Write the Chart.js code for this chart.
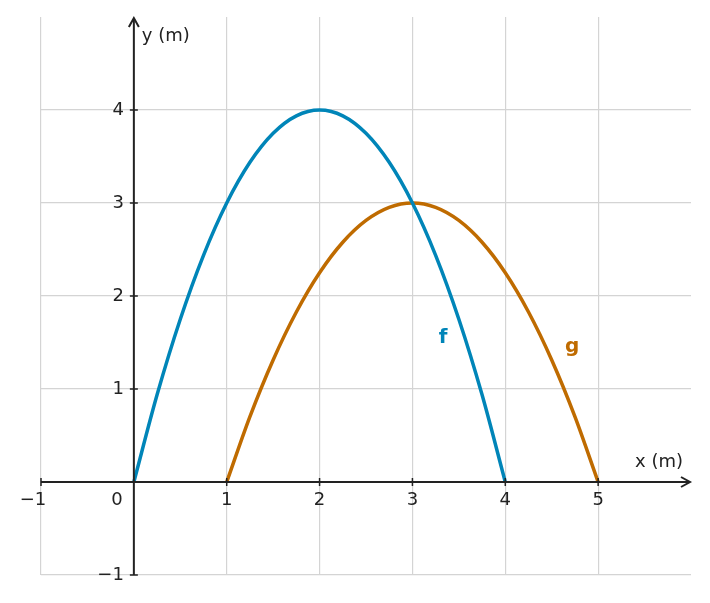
<!DOCTYPE html>
<html><head><meta charset="utf-8">
<script src="https://cdn.jsdelivr.net/npm/chart.js@4"></script>
<style>html,body{margin:0;padding:0;background:#fff}#w{width:710px;height:603px}</style>
</head><body><div id="w"><canvas id="c"></canvas></div>
<script>
const fX = [0,0.25,0.5,0.75,1,1.25,1.5,1.75,2,2.25,2.5,2.75,3,3.25,3.5,3.75,4];
const fY = [0,0.9375,1.75,2.4375,3,3.4375,3.75,3.9375,4,3.9375,3.75,3.4375,3,2.4375,1.75,0.9375,0];
const gX = [1,1.25,1.5,1.75,2,2.25,2.5,2.75,3,3.25,3.5,3.75,4,4.25,4.5,4.75,5];
const gY = [0,0.703125,1.3125,1.828125,2.25,2.578125,2.8125,2.953125,3,2.953125,2.8125,2.578125,2.25,1.828125,1.3125,0.703125,0];
const xTicks = [-1,0,1,2,3,4,5];
const yTicks = [-1,1,2,3,4];
const labels = [{t:'f',x:3.33,y:1.55,c:'#0085b8'},{t:'g',x:4.72,y:1.45,c:'#bf6b00'}];
const INK='#222';
const fmt=v=>v<0?'\u2212'+(-v):String(v);
const axes={id:'axes',afterDatasetsDraw(ch){
 const {ctx,scales:{x,y}}=ch;const x0=x.getPixelForValue(0),y0=y.getPixelForValue(0);
 const L=x.getPixelForValue(-1),R=x.getPixelForValue(6),T=y.getPixelForValue(5),B=y.getPixelForValue(-1);
 ctx.save();ctx.strokeStyle=INK;ctx.fillStyle=INK;ctx.lineWidth=2;
 ctx.beginPath();ctx.moveTo(L,y0);ctx.lineTo(R-2,y0);ctx.moveTo(x0,B);ctx.lineTo(x0,T+2);ctx.stroke();
 ctx.beginPath();ctx.moveTo(R-10,y0-5);ctx.lineTo(R-1,y0);ctx.lineTo(R-10,y0+5);ctx.moveTo(x0-5,T+10);ctx.lineTo(x0,T+1);ctx.lineTo(x0+5,T+10);ctx.stroke();
 ctx.lineWidth=1.5;ctx.font='18px "DejaVu Sans"';
 ctx.textAlign='center';ctx.textBaseline='top';
 xTicks.forEach(v=>{const p=x.getPixelForValue(v);if(v!==0){ctx.beginPath();ctx.moveTo(p,y0-4);ctx.lineTo(p,y0+4);ctx.stroke();ctx.fillText(fmt(v),p-(v<0?8:0),y0+9);}else ctx.fillText('0',p-17,y0+9);});
 ctx.textAlign='right';ctx.textBaseline='middle';
 yTicks.forEach(v=>{const p=y.getPixelForValue(v);ctx.beginPath();ctx.moveTo(x0-4,p);ctx.lineTo(x0+4,p);ctx.stroke();ctx.fillText(fmt(v),x0-10,p);});
 ctx.textAlign='left';ctx.fillText('y (m)',x0+8,T+19);
 ctx.textAlign='right';ctx.fillText('x (m)',R-8,y0-20);
 ctx.font='bold 20px "DejaVu Sans"';ctx.textAlign='center';
 labels.forEach(l=>{ctx.fillStyle=l.c;ctx.fillText(l.t,x.getPixelForValue(l.x),y.getPixelForValue(l.y));});
 ctx.restore();}};
new Chart(document.getElementById('c'),{type:'line',
 data:{datasets:[
  {data:fX.map((v,i)=>({x:v,y:fY[i]})),borderColor:'#0085b8',borderWidth:3.5,pointRadius:0,tension:0.4,cubicInterpolationMode:'monotone'},
  {data:gX.map((v,i)=>({x:v,y:gY[i]})),borderColor:'#bf6b00',borderWidth:3.5,pointRadius:0,tension:0.4,cubicInterpolationMode:'monotone'}]},
 options:{responsive:true,maintainAspectRatio:false,animation:false,
  layout:{padding:{left:41,right:19,top:17,bottom:28}},
  plugins:{legend:{display:false},tooltip:{enabled:false}},
  scales:{
   x:{type:'linear',min:-1,max:6,border:{display:false},ticks:{display:false,stepSize:1},grid:{lineWidth:1.2,drawTicks:false,color:c=>c.tick.value===6?'rgba(0,0,0,0)':'#d4d4d4'}},
   y:{type:'linear',min:-1,max:5,border:{display:false},ticks:{display:false,stepSize:1},grid:{drawTicks:false,lineWidth:1.2,color:c=>c.tick.value===5?'rgba(0,0,0,0)':'#d4d4d4'}}}},
 plugins:[axes]});
</script></body></html>
